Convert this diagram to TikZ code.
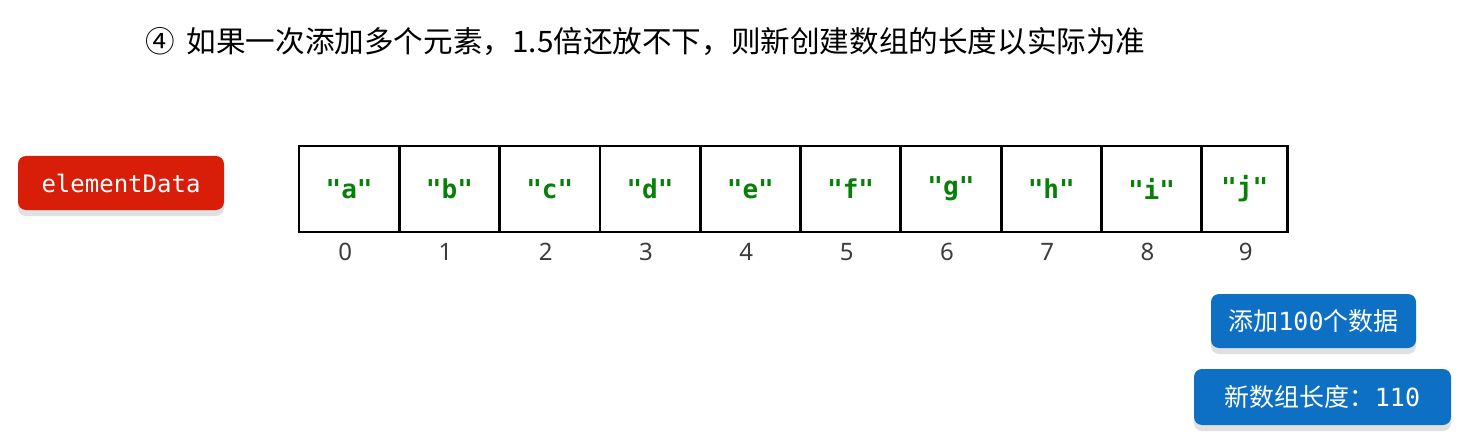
\documentclass[tikz,border=0pt]{standalone}
\usepackage{fontspec}
\setmainfont{Noto Sans}
\newfontfamily\cjk{Noto Sans CJK SC}
\newfontfamily\code{DejaVu Sans Mono}
\usetikzlibrary{positioning, shadows}
\definecolor{elemred}{RGB}{216,30,8}
\definecolor{btnblue}{RGB}{14,112,196}
\definecolor{strgreen}{RGB}{8,128,8}
\definecolor{idxgray}{RGB}{60,60,60}

\begin{document}
\begin{tikzpicture}[
  x=1pt, y=-1pt,
  cell/.style={rectangle, draw=black, line width=2.8pt, outer sep=0pt,
               minimum width=100.3pt, minimum height=86pt, text=strgreen,
               font=\code\bfseries\fontsize{26}{30}\selectfont},
  idx/.style={inner sep=0pt, xshift=-4pt, text=idxgray, font=\fontsize{24}{28}\selectfont},
  button/.style={rectangle, rounded corners=8pt, text=white, inner sep=0pt,
                 drop shadow={shadow xshift=0pt, shadow yshift=-6pt, fill=black!12, opacity=1}},
]
\useasboundingbox (0,0) rectangle (1476,441);

% Title
\node[anchor=west, inner sep=0pt, text=black, font=\cjk\fontsize{29.6}{36}\selectfont] (title) at (145,42)
  {④\hspace{12pt}如果一次添加多个元素，1.5倍还放不下，则新创建数组的长度以实际为准};

% Array name
\node[button, fill=elemred, minimum width=206pt, minimum height=54pt,
      font=\code\fontsize{24}{28}\selectfont] (elem) at (121,183) {elementData};

% Array cells
\node[cell] (a) at (349.15,189) {"a"};
\node[cell, right=0pt of a] (b) {"b"};
\node[cell, right=0pt of b] (c) {"c"};
\node[cell, right=0pt of c] (d) {"d"};
\node[cell, right=0pt of d] (e) {"e"};
\node[cell, right=0pt of e] (f) {"f"};
\node[cell, right=0pt of f] (g) {"g"};
\node[cell, right=0pt of g] (h) {"h"};
\node[cell, right=0pt of h] (i) {"i"};
\node[cell, right=0pt of i, minimum width=86pt] (j) {"j"};

% Indices
\node[idx, below=11pt of a] (ia) {0};
\node[idx, below=11pt of b] (ib) {1};
\node[idx, below=11pt of c] (ic) {2};
\node[idx, below=11pt of d] (id) {3};
\node[idx, below=11pt of e] (ie) {4};
\node[idx, below=11pt of f] (if) {5};
\node[idx, below=11pt of g] (ig) {6};
\node[idx, below=11pt of h] (ih) {7};
\node[idx, below=11pt of i] (ii) {8};
\node[idx, below=11pt of j, xshift=5pt] (ij) {9};

% Notes
\node[button, fill=btnblue, minimum width=205pt, minimum height=54pt,
      font=\fontsize{25}{30}\selectfont] (add) at (1313.5,321)
  {{\cjk 添加}{\code 100}{\cjk 个数据}};
\node[button, fill=btnblue, minimum width=257pt, minimum height=56pt,
      font=\fontsize{25}{30}\selectfont] (newlen) at (1322.5,397)
  {{\cjk 新数组长度：}{\code 110}};

\end{tikzpicture}
\end{document}
